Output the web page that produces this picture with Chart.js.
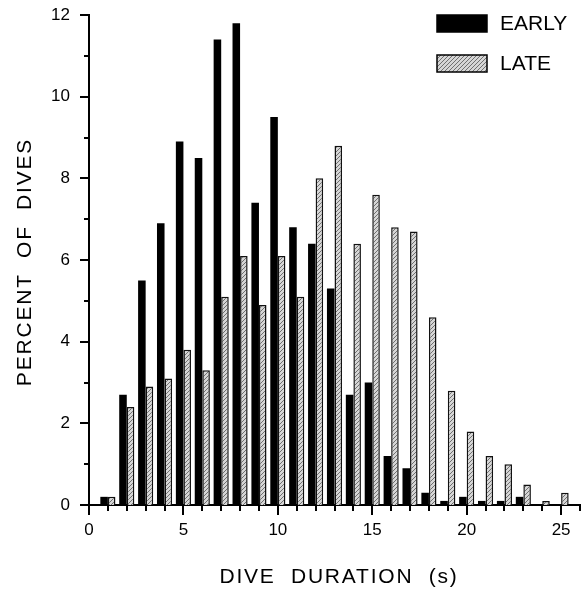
<!DOCTYPE html>
<html>
<head>
<meta charset="utf-8">
<script src="https://cdn.jsdelivr.net/npm/chart.js@4.4.1/dist/chart.umd.min.js"></script>
<style>
  html, body { margin: 0; padding: 0; background: #fff; }
  #wrap { width: 581px; height: 594px; }
</style>
</head>
<body>
<div id="wrap"><canvas id="dives"></canvas></div>
<script>
// dive duration bins (s)
const durations = [1, 2, 3, 4, 5, 6, 7, 8, 9, 10, 11, 12, 13, 14, 15, 16, 17, 18, 19, 20, 21, 22, 23, 24, 25];
// percent of dives, early season
const early = [0.2, 2.7, 5.5, 6.9, 8.9, 8.5, 11.4, 11.8, 7.4, 9.5, 6.8, 6.4, 5.3, 2.7, 3.0, 1.2, 0.9, 0.3, 0.1, 0.2, 0.1, 0.1, 0.2, 0, 0];
// percent of dives, late season
const late = [0.2, 2.4, 2.9, 3.1, 3.8, 3.3, 5.1, 6.1, 4.9, 6.1, 5.1, 8.0, 8.8, 6.4, 7.6, 6.8, 6.7, 4.6, 2.8, 1.8, 1.2, 1.0, 0.5, 0.1, 0.3];
const seriesNames = ['EARLY', 'LATE'];
const xTitle = 'DIVE  DURATION  (s)';
const yTitle = 'PERCENT  OF  DIVES';

const FONT = "'Liberation Sans', Arial, Helvetica, sans-serif";

// light grey diagonal hatch for the late bars
function makeHatch() {
  const pc = document.createElement('canvas');
  pc.width = 4;
  pc.height = 4;
  const p = pc.getContext('2d');
  p.fillStyle = '#d6d6d6';
  p.fillRect(0, 0, 4, 4);
  p.strokeStyle = '#707070';
  p.lineWidth = 1;
  p.beginPath();
  p.moveTo(0, 4); p.lineTo(4, 0);
  p.moveTo(-1, 1); p.lineTo(1, -1);
  p.moveTo(3, 5); p.lineTo(5, 3);
  p.stroke();
  return p.createPattern(pc, 'repeat');
}

const ctx = document.getElementById('dives').getContext('2d');
const hatch = makeHatch();

// tick marks, axis titles and the legend box
const extras = {
  id: 'extras',
  afterDraw(chart) {
    const c = chart.ctx;
    const xs = chart.scales.x, ys = chart.scales.y;
    const area = chart.chartArea;
    c.save();
    c.strokeStyle = '#000';
    c.lineWidth = 2;
    xs.ticks.forEach(t => {
      const px = Math.round(xs.getPixelForValue(t.value));
      const len = t.value % 5 === 0 ? 10 : 6;
      c.beginPath();
      c.moveTo(px, xs.top);
      c.lineTo(px, xs.top + len);
      c.stroke();
    });
    ys.ticks.forEach(t => {
      const py = Math.round(ys.getPixelForValue(t.value));
      const len = t.value % 2 === 0 ? 9 : 5;
      c.beginPath();
      c.moveTo(ys.right, py);
      c.lineTo(ys.right - len, py);
      c.stroke();
    });

    c.fillStyle = '#000';
    c.font = '21px ' + FONT;
    c.letterSpacing = '1.8px';
    c.textAlign = 'center';
    c.textBaseline = 'middle';
    c.fillText(xTitle, 339, 577);
    c.save();
    c.translate(25, 262);
    c.rotate(-Math.PI / 2);
    c.fillText(yTitle, 0, 0);
    c.restore();

    // legend
    c.letterSpacing = '0px';
    c.textAlign = 'left';
    chart.data.datasets.forEach((ds, i) => {
      const bx = area.right - 143, by = area.top + i * 40;
      c.fillStyle = ds.backgroundColor;
      c.fillRect(bx, by, 50, 17);
      c.lineWidth = 1.5;
      c.strokeStyle = '#000';
      c.strokeRect(bx, by, 50, 17);
      c.fillStyle = '#000';
      c.fillText(ds.label, bx + 63, by + 9);
    });
    c.restore();
  }
};

new Chart(ctx, {
  type: 'bar',
  data: {
    datasets: [
      {
        label: seriesNames[0],
        data: durations.map((d, i) => ({ x: d, y: early[i] })),
        backgroundColor: '#000',
        borderColor: '#000',
        borderWidth: 0
      },
      {
        label: seriesNames[1],
        data: durations.map((d, i) => ({ x: d, y: late[i] })),
        backgroundColor: hatch,
        borderColor: '#111',
        borderWidth: 1.5
      }
    ]
  },
  options: {
    responsive: true,
    maintainAspectRatio: false,
    animation: false,
    categoryPercentage: 0.8,
    barPercentage: 1.0,
    layout: { padding: { top: 15, right: 1, left: 0, bottom: 0 } },
    plugins: {
      legend: { display: false },
      tooltip: { enabled: false }
    },
    scales: {
      x: {
        type: 'linear',
        min: 0,
        max: 26,
        offset: false,
        grid: { display: false, drawTicks: true, tickLength: 8, offset: false },
        border: { display: true, color: '#000', width: 2 },
        ticks: {
          stepSize: 1,
          autoSkip: false,
          maxRotation: 0,
          padding: 7,
          color: '#000',
          font: { family: FONT, size: 17 },
          callback: v => (v % 5 === 0 && v <= 25 ? v : '')
        },
        afterFit: s => { s.height = 89; s.paddingLeft = 0; s.paddingRight = 0; }
      },
      y: {
        min: 0,
        max: 12,
        grid: { display: false, drawTicks: true, tickLength: 8 },
        border: { display: true, color: '#000', width: 2 },
        ticks: {
          stepSize: 1,
          autoSkip: false,
          padding: 11,
          color: '#000',
          font: { family: FONT, size: 17 },
          callback: v => (v % 2 === 0 ? v : '')
        },
        afterFit: s => { s.width = 89; s.paddingTop = 0; s.paddingBottom = 0; }
      }
    }
  },
  plugins: [extras]
});
</script>
</body>
</html>
